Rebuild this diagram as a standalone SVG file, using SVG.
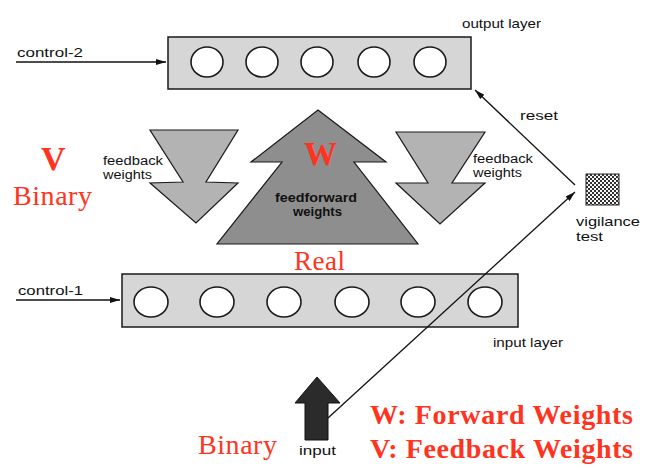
<svg xmlns="http://www.w3.org/2000/svg" width="656" height="470" viewBox="0 0 656 470">
<style>
.lbl{font-family:"Liberation Sans",Arial,sans-serif;font-size:13px;fill:#111}
.sm{font-size:12px}
.red{font-family:"Liberation Serif","Times New Roman",serif;fill:#ff3320}
.redb{font-family:"Liberation Serif","Times New Roman",serif;fill:#ff3320;font-weight:bold}
.layer{fill:#d6d6d6;stroke:#1a1a1a;stroke-width:1.5}
.unit{fill:#fff;stroke:#1a1a1a;stroke-width:1.6}
.fb{fill:#b3b3b3;stroke:#1a1a1a;stroke-width:1.2}
.ff{fill:#8e8e8e;stroke:#1a1a1a;stroke-width:1.2}
.conn{stroke:#111;stroke-width:1.3;fill:none}
</style>
<defs>
<marker id="ah" viewBox="0 0 10 6" refX="10" refY="3" markerWidth="10" markerHeight="6" markerUnits="userSpaceOnUse" orient="auto">
<path d="M0,0 L10,3 L0,6 Z" fill="#111"/>
</marker>
<pattern id="chk" width="4" height="4" patternUnits="userSpaceOnUse">
<rect width="4" height="4" fill="#f4f4f4"/>
<rect width="2" height="2" fill="#333"/>
<rect x="2" y="2" width="2" height="2" fill="#333"/>
</pattern>
</defs>
<rect width="656" height="470" fill="#fff"/>

<g id="output-layer">
<rect class="layer" x="168" y="37" width="303" height="52"/>
<ellipse class="unit" cx="207" cy="62" rx="16" ry="15"/>
<ellipse class="unit" cx="262" cy="62" rx="16" ry="15"/>
<ellipse class="unit" cx="317" cy="62" rx="16" ry="15"/>
<ellipse class="unit" cx="374" cy="62" rx="16" ry="15"/>
<ellipse class="unit" cx="430" cy="62" rx="16" ry="15"/>
<text class="lbl" x="462" y="28" textLength="79" lengthAdjust="spacingAndGlyphs">output layer</text>
</g>

<g id="input-layer">
<rect class="layer" x="122" y="274" width="396" height="53"/>
<ellipse class="unit" cx="151" cy="302" rx="17" ry="15"/>
<ellipse class="unit" cx="217" cy="302" rx="17" ry="15"/>
<ellipse class="unit" cx="284" cy="302" rx="17" ry="15"/>
<ellipse class="unit" cx="352" cy="302" rx="17" ry="15"/>
<ellipse class="unit" cx="418" cy="302" rx="17" ry="15"/>
<ellipse class="unit" cx="485" cy="302" rx="17" ry="15"/>
<text class="lbl" x="493" y="347" textLength="70" lengthAdjust="spacingAndGlyphs">input layer</text>
</g>

<g id="feedback-left">
<polygon class="fb" points="150,130 238,130 206,182 238,183 196,223 150,183 183,182"/>
<text class="lbl sm" x="103" y="165" textLength="60" lengthAdjust="spacingAndGlyphs">feedback</text>
<text class="lbl sm" x="103" y="179" textLength="49" lengthAdjust="spacingAndGlyphs">weights</text>
</g>

<g id="feedback-right">
<polygon class="fb" points="396,132 485,132 452,183 485,183 440,224 396,183 428,183"/>
<text class="lbl sm" x="473" y="163" textLength="60" lengthAdjust="spacingAndGlyphs">feedback</text>
<text class="lbl sm" x="473" y="177" textLength="49" lengthAdjust="spacingAndGlyphs">weights</text>
</g>

<g id="feedforward">
<polygon class="ff" points="318,110 386,162 354,162 418,244 217,244 282,162 251,162"/>
<text class="lbl sm" x="275" y="202" textLength="82" lengthAdjust="spacingAndGlyphs" font-weight="bold" fill="#222">feedforward</text>
<text class="lbl sm" x="293" y="216" textLength="49" lengthAdjust="spacingAndGlyphs" font-weight="bold" fill="#222">weights</text>
<text class="redb" x="304" y="165" font-size="33">W</text>
</g>

<g id="vigilance">
<rect x="586" y="174" width="33" height="31" fill="url(#chk)" stroke="#222" stroke-width="1"/>
<text class="lbl" x="576" y="226" textLength="64" lengthAdjust="spacingAndGlyphs">vigilance</text>
<text class="lbl" x="576" y="241" textLength="27" lengthAdjust="spacingAndGlyphs">test</text>
</g>

<g id="input">
<polygon points="317,377 340,403 328,403 328,440 305,440 305,403 295,403" fill="#2b2b2b" stroke="#111" stroke-width="1"/>
<text class="lbl" x="299" y="455" textLength="37" lengthAdjust="spacingAndGlyphs">input</text>
</g>

<g id="connectors">
<line class="conn" x1="16" y1="62" x2="166" y2="62" marker-end="url(#ah)"/>
<line class="conn" x1="16" y1="300" x2="120" y2="300" marker-end="url(#ah)"/>
<line class="conn" x1="575" y1="185" x2="475" y2="90" marker-end="url(#ah)"/>
<line class="conn" x1="328" y1="418" x2="575" y2="192" marker-end="url(#ah)"/>
</g>

<g id="labels">
<text class="lbl" x="17" y="57" textLength="66" lengthAdjust="spacingAndGlyphs">control-2</text>
<text class="lbl" x="18" y="295" textLength="65" lengthAdjust="spacingAndGlyphs">control-1</text>
<text class="lbl" x="520" y="120" textLength="38" lengthAdjust="spacingAndGlyphs">reset</text>
<text class="redb" x="41" y="170" font-size="34">V</text>
<text class="red" x="13" y="205" font-size="28" textLength="79">Binary</text>
<text class="red" x="294" y="270" font-size="27" textLength="51">Real</text>
<text class="red" x="198" y="454" font-size="28" textLength="79">Binary</text>
<text class="redb" x="370" y="424" font-size="28" textLength="263">W: Forward Weights</text>
<text class="redb" x="370" y="458" font-size="28" textLength="263">V: Feedback Weights</text>
</g>
</svg>
